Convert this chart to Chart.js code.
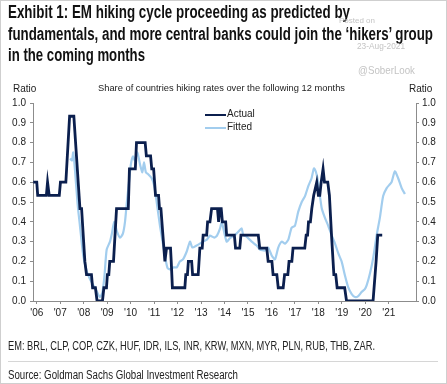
<!DOCTYPE html>
<html><head><meta charset="utf-8">
<script src="https://cdn.jsdelivr.net/npm/chart.js@4.4.1/dist/chart.umd.min.js"></script>
<style>
html,body{margin:0;padding:0;background:#fff;}
#wrap{position:relative;width:447px;height:384px;overflow:hidden;background:#fff;}
#frame{position:absolute;left:0;top:0;width:445px;height:382px;border:1px solid #cfcfcf;z-index:3;pointer-events:none;}
#c{position:absolute;left:0;top:0;z-index:1;}
.t{position:absolute;white-space:nowrap;z-index:2;line-height:1;transform-origin:0 0;}
.title{font-family:"Liberation Sans",Arial,sans-serif;font-weight:bold;font-size:18px;color:#111;left:8px;}
.wm{font-family:"Liberation Sans",Arial,sans-serif;color:#c4c4c4;z-index:4;}
.sm{font-family:"Liberation Sans",Arial,sans-serif;font-size:9.3px;color:#222;}
.foot{font-family:"Liberation Sans",Arial,sans-serif;font-size:12px;color:#222;left:8px;}
.lg{position:absolute;height:0;z-index:2;}
#div{position:absolute;left:8px;top:361px;width:430px;height:1px;background:#d6d6d6;z-index:2;}
</style></head>
<body>
<div id="wrap">
<canvas id="c" width="447" height="384"></canvas>
<div class="t title" style="top:3px;" data-w="342">Exhibit 1: EM hiking cycle proceeding as predicted by</div>
<div class="t title" style="top:25px;" data-w="425">fundamentals, and more central banks could join the ‘hikers’ group</div>
<div class="t title" style="top:46px;" data-w="137">in the coming months</div>
<div class="t wm" style="left:339px;top:17px;font-size:7.5px;" data-w="36">Posted on</div>
<div class="t wm" style="left:357px;top:42px;font-size:8.5px;" data-w="48">23-Aug-2021</div>
<div class="t wm" style="left:358px;top:65px;font-size:10.5px;" data-w="57">@SoberLook</div>
<div class="t sm" style="left:13px;top:84px;font-size:10px;">Ratio</div>
<div class="t sm" style="left:98px;top:84px;" data-w="247">Share of countries hiking rates over the following 12 months</div>
<div class="t sm" style="left:409px;top:84px;font-size:10px;">Ratio</div>
<div id="legend"></div>
<div class="t foot" style="top:340px;" data-w="367">EM: BRL, CLP, COP, CZK, HUF, IDR, ILS, INR, KRW, MXN, MYR, PLN, RUB, THB, ZAR.</div>
<div id="div"></div>
<div class="t foot" style="top:369px;" data-w="230">Source: Goldman Sachs Global Investment Research</div>
<div id="frame"></div>
</div>
<script>
// ---- data (decimal years, ratio) ----
const actualX = [2005.85,2006.0,2006.04,2006.41,2006.46,2006.53,2006.96,2007.01,2007.24,2007.40,2007.58,2007.84,2007.91,2008.05,2008.12,2008.33,2008.38,2008.50,2008.57,2008.80,2008.86,2008.97,2009.01,2009.07,2009.11,2009.27,2009.40,2009.90,2009.95,2010.20,2010.25,2010.62,2010.67,2010.85,2010.90,2010.98,2011.06,2011.19,2011.23,2011.29,2011.46,2011.53,2011.70,2011.73,2011.78,2012.31,2012.35,2012.42,2012.46,2012.60,2012.64,2012.88,2012.95,2013.05,2013.09,2013.24,2013.28,2013.38,2013.45,2013.70,2013.75,2013.80,2013.86,2013.91,2014.05,2014.09,2014.42,2014.47,2014.65,2014.70,2015.44,2015.50,2015.80,2015.86,2016.02,2016.07,2016.23,2016.29,2016.50,2016.56,2016.70,2016.75,2016.87,2016.92,2017.42,2017.48,2017.54,2017.58,2017.66,2017.72,2017.80,2017.93,2018.00,2018.06,2018.12,2018.20,2018.26,2018.40,2018.47,2018.56,2018.66,2018.74,2018.80,2019.12,2019.20,2020.33,2020.46,2020.53,2020.72];
const actualY = [0.6,0.6,0.533,0.533,0.6,0.533,0.533,0.6,0.6,0.933,0.933,0.467,0.467,0.2,0.133,0.133,0.067,0.067,0,0,0.067,0.067,0.133,0.133,0.2,0.2,0.467,0.467,0.667,0.667,0.8,0.8,0.733,0.733,0.667,0.667,0.533,0.533,0.467,0.467,0.2,0.267,0.267,0.2,0.067,0.067,0.133,0.133,0.2,0.2,0.133,0.133,0.267,0.267,0.333,0.333,0.4,0.4,0.467,0.467,0.4,0.467,0.467,0.4,0.4,0.333,0.333,0.267,0.267,0.333,0.333,0.267,0.267,0.2,0.2,0.133,0.133,0.067,0.067,0.133,0.133,0.2,0.2,0.267,0.267,0.333,0.333,0.4,0.4,0.467,0.533,0.6,0.533,0.533,0.6,0.667,0.6,0.6,0.533,0.333,0.133,0.133,0.067,0.067,0,0,0.2,0.333,0.333];
const fittedX = [2007.42,2007.50,2007.555,2007.63,2007.74,2007.84,2007.98,2008.13,2008.27,2008.41,2008.55,2008.69,2008.79,2008.88,2008.98,2009.12,2009.20,2009.30,2009.42,2009.55,2009.67,2009.76,2009.84,2009.93,2010.01,2010.10,2010.18,2010.29,2010.40,2010.50,2010.57,2010.65,2010.75,2010.90,2011.01,2011.11,2011.25,2011.39,2011.49,2011.58,2011.72,2011.82,2011.97,2012.10,2012.23,2012.39,2012.53,2012.63,2012.81,2012.95,2013.09,2013.25,2013.38,2013.56,2013.68,2013.81,2013.88,2013.95,2014.09,2014.23,2014.45,2014.59,2014.73,2014.80,2014.94,2015.16,2015.37,2015.51,2015.72,2015.86,2016.01,2016.15,2016.29,2016.44,2016.58,2016.72,2016.86,2017.00,2017.14,2017.29,2017.43,2017.57,2017.71,2017.81,2017.90,2017.99,2018.14,2018.28,2018.42,2018.57,2018.71,2018.85,2018.99,2019.13,2019.27,2019.42,2019.56,2019.70,2019.84,2019.98,2020.06,2020.20,2020.34,2020.48,2020.62,2020.76,2020.91,2021.05,2021.12,2021.26,2021.40,2021.55,2021.69];
const fittedY = [0.72,0.71,0.75,0.66,0.49,0.38,0.23,0.15,0.11,0.08,0.05,0.02,0.04,0.12,0.26,0.30,0.34,0.40,0.35,0.32,0.34,0.40,0.50,0.60,0.69,0.73,0.71,0.75,0.69,0.65,0.70,0.65,0.64,0.62,0.58,0.50,0.38,0.28,0.21,0.165,0.16,0.17,0.17,0.20,0.21,0.25,0.30,0.27,0.28,0.29,0.30,0.31,0.33,0.32,0.33,0.367,0.40,0.367,0.30,0.317,0.333,0.35,0.367,0.333,0.325,0.30,0.28,0.26,0.255,0.27,0.23,0.21,0.27,0.30,0.29,0.31,0.37,0.38,0.45,0.50,0.53,0.58,0.62,0.67,0.65,0.60,0.47,0.42,0.38,0.33,0.29,0.24,0.20,0.13,0.07,0.035,0.02,0.025,0.045,0.06,0.08,0.14,0.22,0.33,0.42,0.53,0.57,0.59,0.60,0.655,0.62,0.57,0.54];
const yearTicks = [2006,2007,2008,2009,2010,2011,2012,2013,2014,2015,2016,2017,2018,2019,2020,2021];
const yearLabels = ["'06","'07","'08","'09","'10","'11","'12","'13","'14","'15","'16","'17","'18","'19","'20","'21"];
const ratioTicks = [0,0.1,0.2,0.3,0.4,0.5,0.6,0.7,0.8,0.9,1.0];
const seriesNames = ["Actual","Fitted"];
const seriesColors = ["#0b1f4e","#a2cdee"];

// fit condensed text runs to the widths measured on the reference
document.querySelectorAll('[data-w]').forEach(el=>{
  const w = el.getBoundingClientRect().width;
  const target = parseFloat(el.dataset.w);
  if (w > 0) el.style.transform = `scaleX(${target/w})`;
});

const tickFont = {family:"'Liberation Sans', Arial, sans-serif", size:10};
function yScale(pos, width, pad){
  return {
    position:pos, min:0, max:1,
    afterBuildTicks:s=>{s.ticks = ratioTicks.map(v=>({value:v}));},
    afterFit:s=>{s.width = width;},
    ticks:{callback:v=>Number(v).toFixed(1), font:tickFont, color:'#222', padding:pad, autoSkip:false},
    grid:{drawOnChartArea:false, drawTicks:true, tickLength:3, color:'#8c8c8c'},
    border:{display:true, color:'#8c8c8c', width:1}
  };
}
const chart = new Chart(document.getElementById('c'), {
  type:'line',
  data:{datasets:[
    {label:seriesNames[0], data:actualX.map((x,i)=>({x:x,y:actualY[i]})), borderColor:seriesColors[0], borderWidth:2.8, pointRadius:0, tension:0, yAxisID:'y', order:0, borderJoinStyle:'miter'},
    {label:seriesNames[1], data:fittedX.map((x,i)=>({x:x,y:fittedY[i]})), borderColor:seriesColors[1], borderWidth:2.2, pointRadius:0, tension:0.2, yAxisID:'y', order:1}
  ]},
  options:{
    responsive:false, animation:false, devicePixelRatio:1,
    layout:{padding:{top:103,left:0,right:0,bottom:0}},
    plugins:{legend:{display:false}, tooltip:{enabled:false}, title:{display:false}},
    scales:{
      x:{type:'linear', min:2005.84, max:2022.16,
        afterBuildTicks:s=>{s.ticks = yearTicks.map(v=>({value:v}));},
        afterFit:s=>{s.height = 83;},
        ticks:{callback:(v)=>yearLabels[yearTicks.indexOf(v)], font:tickFont, color:'#222', padding:3, maxRotation:0, autoSkip:false},
        grid:{drawOnChartArea:false, drawTicks:true, tickLength:3, color:'#8c8c8c'},
        border:{display:true, color:'#8c8c8c', width:1}
      },
      y:yScale('left',33,4),
      y2:yScale('right',31,3)
    }
  }
});
// legend built from the dataset definitions
const lg = document.getElementById('legend');
chart.data.datasets.forEach((ds,i)=>{
  const cy = 115 + i*13;
  const line = document.createElement('div');
  line.className='lg';
  line.style.cssText = `left:205px;top:${cy - ds.borderWidth/2}px;width:21px;border-top:${ds.borderWidth}px solid ${ds.borderColor};`;
  lg.appendChild(line);
  const t = document.createElement('div');
  t.className='t sm';
  t.style.cssText = `left:227px;top:${cy-6}px;font-size:10px;`;
  t.textContent = ds.label;
  lg.appendChild(t);
});
</script>
</body></html>
